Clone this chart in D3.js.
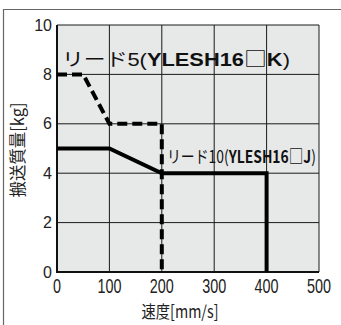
<!DOCTYPE html>
<html><head><meta charset="utf-8">
<script src="https://cdn.jsdelivr.net/npm/d3@7"></script>
<style>html,body{margin:0;padding:0;background:#fff;}svg{display:block;}</style>
</head><body>
<script>
const xTicks = [0, 100, 200, 300, 400, 500];
const yTicks = [0, 2, 4, 6, 8, 10];
const lead5Speed = [0, 50, 100, 200, 200];
const lead5Mass = [8, 8, 6, 6, 0];
const lead10Speed = [0, 100, 200, 400, 400];
const lead10Mass = [5, 5, 4, 4, 0];
const lead5Label = ["リード5(", "YLESH16", "□", "K", ")"];
const lead10Label = ["リード10(", "YLESH16", "□", "J", ")"];
const xTitle = "速度[mm/s]";
const yTitle = "搬送質量[kg]";

const W = 341, H = 325;
const svg = d3.select("body").append("svg").attr("width", W).attr("height", H);
const x = d3.scaleLinear().domain([0, 500]).range([57, 319]);
const y = d3.scaleLinear().domain([0, 10]).range([272, 25]);

// outer frame (top & left)
svg.append("path").attr("d", "M3.5,325V9.5H341").attr("fill", "none").attr("stroke", "#666").attr("stroke-width", 1.2);

// plot background
svg.append("rect").attr("x", x(0)).attr("y", y(10)).attr("width", x(500) - x(0)).attr("height", y(0) - y(10)).attr("fill", "#e7e8e8");

// grid
const grid = svg.append("g").attr("stroke", "#1a1a1a").attr("stroke-width", 1);
grid.selectAll(".gx").data(xTicks.slice(1)).join("line")
  .attr("x1", d => x(d)).attr("x2", d => x(d)).attr("y1", y(0)).attr("y2", y(10));
grid.selectAll(".gy").data(yTicks.slice(1)).join("line")
  .attr("x1", x(0)).attr("x2", x(500)).attr("y1", d => y(d)).attr("y2", d => y(d));

// axes
const xAxis = svg.append("g").attr("transform", `translate(0,${y(0)})`)
  .call(d3.axisBottom(x).tickValues(xTicks).tickSize(0).tickPadding(7));
const yAxis = svg.append("g").attr("transform", `translate(${x(0)},0)`)
  .call(d3.axisLeft(y).tickValues(yTicks).tickSize(0).tickPadding(5));
xAxis.select(".domain").remove();
yAxis.select(".domain").remove();
xAxis.selectAll("text").attr("font-family", "'Liberation Sans Narrow', 'Liberation Sans', sans-serif")
  .attr("font-size", 20).attr("fill", "#222").attr("dy", "0.71em")
  .attr("transform", function(d){ return `translate(${x(d)},0) scale(0.72,1) translate(${-x(d)},0)`; })
  .attr("x", d => x(d));
xAxis.selectAll(".tick").attr("transform", null);
yAxis.selectAll("text").attr("font-family", "'Liberation Sans Narrow', 'Liberation Sans', sans-serif")
  .attr("font-size", 16).attr("fill", "#222");
svg.append("line").attr("x1", x(0)).attr("x2", x(500)).attr("y1", y(0)).attr("y2", y(0)).attr("stroke", "#111").attr("stroke-width", 2);
svg.append("line").attr("x1", x(0)).attr("x2", x(0)).attr("y1", y(0) + 1).attr("y2", y(10)).attr("stroke", "#111").attr("stroke-width", 2);

// series
const line = d3.line().x(d => x(d[0])).y(d => y(d[1]));
svg.append("path").datum(lead10Speed.map((s, i) => [s, lead10Mass[i]]))
  .attr("d", line).attr("fill", "none").attr("stroke", "#000").attr("stroke-width", 4).attr("stroke-linejoin", "miter");
svg.append("path").datum(lead5Speed.map((s, i) => [s, lead5Mass[i]]))
  .attr("d", line).attr("fill", "none").attr("stroke", "#000").attr("stroke-width", 4)
  .attr("stroke-dasharray", "10,5");

// labels
function label(parts, px, py, size, len, family) {
  const g = svg.append("g");
  const t = g.append("text").attr("x", 0).attr("y", 0).attr("font-size", size)
    .attr("font-family", family).attr("fill", "#111");
  t.append("tspan").text(parts[0]);
  t.append("tspan").attr("font-weight", "bold").text(parts[1]);
  t.append("tspan").attr("font-family", "'Noto Sans CJK JP', sans-serif").attr("font-weight", "normal").attr("font-size", size * 1.05).text(parts[2]);
  t.append("tspan").attr("font-weight", "bold").text(parts[3]);
  t.append("tspan").text(parts[4]);
  const nat = t.node().getComputedTextLength();
  g.attr("transform", `translate(${px},${py}) scale(${len / nat},1)`);
}
label(lead5Label, 62, 66, 18, 228, "'Liberation Sans', 'Noto Sans CJK JP', sans-serif");
label(lead10Label, 167, 163, 17, 149, "'Liberation Sans Narrow', 'Noto Sans CJK JP', sans-serif");

// titles
function title(txt, tx, ty, rot, len) {
  const g = svg.append("g");
  const t = g.append("text").attr("text-anchor", "middle")
    .attr("font-size", 17).attr("font-family", "'Noto Sans CJK JP', sans-serif").attr("fill", "#222").text(txt);
  const nat = t.node().getComputedTextLength();
  g.attr("transform", `translate(${tx},${ty}) rotate(${rot}) scale(${len / nat},1)`);
}
title(xTitle, 180, 318, 0, 77);
title(yTitle, 24, 150, -90, 95);
</script>
</body></html>
